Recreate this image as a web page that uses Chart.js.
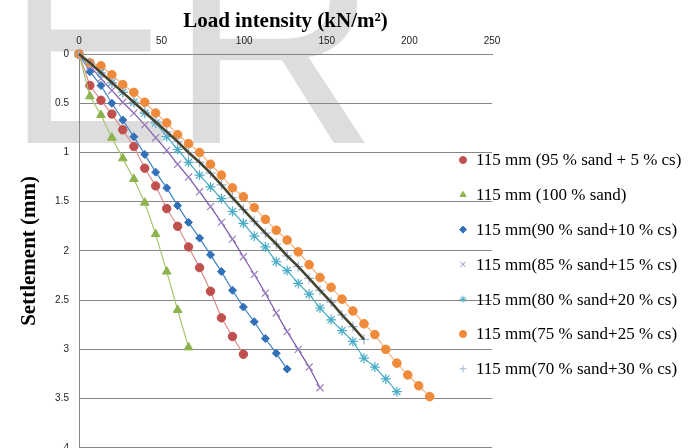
<!DOCTYPE html>
<html>
<head>
<meta charset="utf-8">
<script src="https://cdn.jsdelivr.net/npm/chart.js@4.4.0/dist/chart.umd.min.js"></script>
<style>
  html, body { margin: 0; padding: 0; background: #fff; overflow: hidden; }
  #wrap { position: relative; width: 695px; height: 448px; overflow: hidden; }
  #chart { display: block; }
</style>
</head>
<body>
<div id="wrap"><canvas id="chart" width="695" height="454"></canvas></div>
<script>
// load intensity (kN/m2) at each step, shared by all series
const loads = [0, 6.6, 13.3, 19.9, 26.5, 33.2, 39.8, 46.4, 53.1, 59.7, 66.3, 73.0, 79.6,
  86.2, 92.9, 99.5, 106.1, 112.8, 119.4, 126.0, 132.7, 139.3, 145.9, 152.6, 159.2,
  165.8, 172.5, 179.1, 185.7, 192.4, 199.0, 205.6, 212.3];

// settlement (mm)
const sand95cs5 = [0, 0.32, 0.47, 0.61, 0.77, 0.94, 1.16, 1.34, 1.57, 1.75, 1.96, 2.17,
  2.41, 2.68, 2.87, 3.05];
const sand100 = [0, 0.43, 0.62, 0.85, 1.06, 1.27, 1.51, 1.83, 2.21, 2.60, 2.98];
const sand90cs10 = [0, 0.18, 0.32, 0.50, 0.67, 0.84, 1.02, 1.20, 1.36, 1.54, 1.71, 1.87,
  2.04, 2.21, 2.40, 2.57, 2.72, 2.89, 3.04, 3.20];
const sand85cs15 = [0, 0.12, 0.25, 0.37, 0.49, 0.60, 0.72, 0.85, 0.98, 1.12, 1.25, 1.40,
  1.55, 1.71, 1.88, 2.06, 2.24, 2.43, 2.63, 2.82, 3.00, 3.18, 3.39];
const sand80cs20 = [0, 0.09, 0.19, 0.29, 0.39, 0.49, 0.60, 0.70, 0.84, 0.97, 1.10, 1.23,
  1.35, 1.47, 1.60, 1.72, 1.85, 1.96, 2.11, 2.20, 2.33, 2.44, 2.58, 2.70, 2.81, 2.92,
  3.09, 3.18, 3.30, 3.43];
const sand75cs25 = [0, 0.09, 0.12, 0.21, 0.31, 0.39, 0.49, 0.60, 0.70, 0.82, 0.91, 1.00,
  1.12, 1.23, 1.36, 1.45, 1.56, 1.68, 1.79, 1.89, 2.01, 2.14, 2.27, 2.37, 2.49, 2.61,
  2.74, 2.85, 3.00, 3.14, 3.26, 3.37, 3.48];
const sand70cs30 = [0, 0.09, 0.19, 0.29, 0.39, 0.49, 0.59, 0.69, 0.79, 0.89, 1.00, 1.10,
  1.21, 1.33, 1.46, 1.58, 1.70, 1.82, 1.93, 2.05, 2.16, 2.28, 2.40, 2.52, 2.65, 2.77, 2.90];

const seriesLabels = [
  '115 mm (95 % sand + 5 % cs)',
  '115 mm (100 % sand)',
  '115 mm(90 % sand+10 % cs)',
  '115 mm(85 % sand+15 % cs)',
  '115 mm(80 % sand+20 % cs)',
  '115 mm(75 % sand+25 % cs)',
  '115 mm(70 % sand+30 % cs)'
];
const xTicks = [0, 50, 100, 150, 200, 250];
const yTicks = [0, 0.5, 1, 1.5, 2, 2.5, 3, 3.5, 4];

const seriesValues = [sand95cs5, sand100, sand90cs10, sand85cs15, sand80cs20, sand75cs25, sand70cs30];

// look of each series: line colour, marker colour, marker shape
const styles = [
  { line: '#D98E8C', mark: '#C0504D', shape: 'circle', r: 4.2, lw: 1.2 },
  { line: '#A9C56F', mark: '#8DB34F', shape: 'triangle', r: 5, lw: 1.2 },
  { line: '#3C83C8', mark: '#3270B8', shape: 'rectRot', r: 4, lw: 1.2 },
  { line: '#7A55A8', mark: '#9A80C0', shape: 'crossRot', r: 5, lw: 1.2 },
  { line: '#4BACC6', mark: '#4BACC6', shape: 'star', r: 5, lw: 1.2 },
  { line: '#F6B27C', mark: '#EE8A3A', shape: 'circle', r: 4.3, lw: 1.2 },
  { line: '#45452F', mark: '#9CB2DA', shape: 'cross', r: 5, lw: 2.6 }
];

const toPoints = vals => vals.map((s, k) => ({ x: loads[k], y: s }));

const datasets = seriesValues.map((vals, i) => {
  const st = styles[i];
  const fillable = st.shape === 'circle' || st.shape === 'triangle' || st.shape === 'rectRot';
  return {
    label: seriesLabels[i],
    data: toPoints(vals),
    borderColor: st.line,
    borderWidth: st.lw,
    showLine: i !== 6,
    pointStyle: st.shape,
    pointRadius: st.r,
    pointHoverRadius: st.r,
    pointBackgroundColor: st.mark,
    pointBorderColor: st.mark,
    pointBorderWidth: fillable ? 1 : 1.2,
    tension: 0,
    fill: false,
    clip: false,
    order: 8 - i
  };
});
// the thick dark line of the last series sits over its markers
datasets.push({
  label: 'line70',
  data: toPoints(sand70cs30),
  borderColor: styles[6].line,
  borderWidth: styles[6].lw,
  pointRadius: 0,
  tension: 0,
  fill: false,
  clip: false,
  order: 0
});

// faint "ER" watermark behind the chart
const watermark = {
  id: 'watermark',
  beforeDraw(chart) {
    const ctx = chart.ctx;
    ctx.save();
    ctx.fillStyle = '#dddddd';
    ctx.font = '290px "Liberation Sans"';
    ctx.textBaseline = 'alphabetic';
    ctx.textAlign = 'left';
    ctx.save();
    ctx.translate(27, 0);
    ctx.scale(0.86, 1);
    ctx.fillText('E', -23, 143);
    ctx.restore();
    ctx.fillText('R', 169, 143);
    ctx.restore();
  }
};

// legend sits on the right, over the plot edge like the Excel one
const sideLegend = {
  id: 'sideLegend',
  afterDraw(chart) {
    const ctx = chart.ctx;
    ctx.save();
    seriesLabels.forEach((label, i) => {
      const y = 160 + i * 34.8;
      const st = styles[i];
      ctx.fillStyle = st.mark;
      ctx.strokeStyle = st.mark;
      ctx.lineWidth = 1;
      Chart.helpers.drawPoint(ctx, { pointStyle: st.shape, radius: 3.5, borderWidth: 1, rotation: 0 }, 463, y);
      ctx.fillStyle = '#000';
      ctx.font = '17px "Liberation Serif"';
      ctx.textBaseline = 'middle';
      ctx.textAlign = 'left';
      ctx.fillText(label, 476, y + 1);
    });
    ctx.restore();
  }
};

new Chart(document.getElementById('chart'), {
  type: 'line',
  data: { datasets },
  options: {
    responsive: false,
    animation: false,
    devicePixelRatio: 1,
    layout: { padding: { left: 0, right: 203, top: 0, bottom: 1 } },
    plugins: {
      legend: { display: false },
      tooltip: { enabled: false }
    },
    scales: {
      x: {
        type: 'linear',
        position: 'top',
        min: 0,
        max: 250,
        afterBuildTicks: s => { s.ticks = xTicks.map(v => ({ value: v })); },
        afterFit: s => { s.height = 54; },
        ticks: { padding: 7, color: '#222', font: { family: '"Liberation Sans"', size: 10 } },
        grid: { display: false, drawTicks: false },
        border: { display: true, color: '#868686', width: 1 },
        title: {
          display: true,
          text: 'Load intensity (kN/m²)',
          color: '#000',
          font: { family: '"Liberation Serif"', size: 21, weight: 'bold' },
          padding: { top: 9, bottom: 0 }
        }
      },
      y: {
        type: 'linear',
        reverse: true,
        min: 0,
        max: 4,
        afterBuildTicks: s => { s.ticks = yTicks.map(v => ({ value: v })); },
        afterFit: s => { s.width = 79; s.paddingTop = 0; s.paddingBottom = 0; },
        ticks: {
          padding: 10,
          color: '#222',
          font: { family: '"Liberation Sans"', size: 10 },
          callback: v => String(v)
        },
        grid: { color: '#868686', lineWidth: 1, drawTicks: false },
        border: { display: true, color: '#868686', width: 1 },
        title: {
          display: true,
          text: 'Settlement (mm)',
          color: '#000',
          font: { family: '"Liberation Serif"', size: 21, weight: 'bold' },
          padding: { top: 17, bottom: 0 }
        }
      }
    }
  },
  plugins: [watermark, sideLegend]
});
</script>
</body>
</html>
